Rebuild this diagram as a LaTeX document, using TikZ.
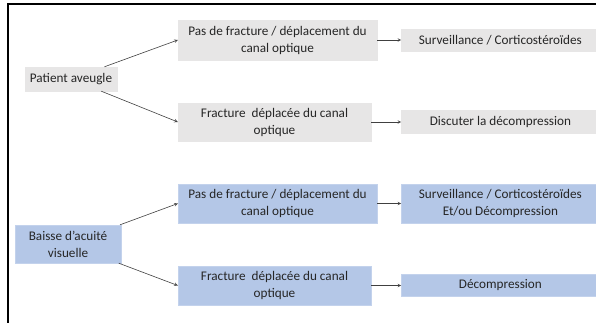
\documentclass[tikz,border=0pt]{standalone}
\usepackage{fontspec}
\setmainfont{Carlito}
\usetikzlibrary{arrows}
\usetikzlibrary{positioning}

\definecolor{boxgray}{HTML}{E7E6E6}
\definecolor{boxblue}{HTML}{B4C7E7}
\definecolor{lineblue}{HTML}{C3D2EC}

\tikzset{
  greybox/.style={fill=boxgray, draw=boxgray, inner sep=0pt, align=center,
    font=\fontsize{13.2}{17}\selectfont, text=black!85},
  bluebox/.style={greybox, fill=boxblue, draw=lineblue},
  every edge/.style={draw, black!75, line width=0.6pt}
}

\begin{document}
\begin{tikzpicture}[->,>=stealth,x=1pt,y=-1pt]
\clip (0,0) rectangle (596,323);
\draw[-,line width=2pt] (8,4) rectangle (620,340);

% patient aveugle
\node[greybox, minimum width=92pt, minimum height=24pt] (pa) at (71,79) {Patient aveugle};
\node[greybox, minimum width=199pt, minimum height=40pt] (m1) at (277.5,40) {Pas de fracture / déplacement du\\canal optique};
\node[greybox, minimum width=193pt, minimum height=38pt] (m2) at (274.5,122) {Fracture\ \ déplacée du canal\\optique};
\node[greybox, minimum width=198pt, minimum height=22pt] (r1) [right=24pt of m1] {Surveillance / Corticostéroïdes};
\node[greybox, minimum width=198pt, minimum height=23pt] (r2) [right=30pt of m2] {Discuter la décompression};

% baisse d'acuite
\node[bluebox, minimum width=106pt, minimum height=38pt] (bv) at (68,244) {Baisse d’acuité\\visuelle};
\node[bluebox, minimum width=199pt, minimum height=39pt] (b1) at (277.5,203.5) {Pas de fracture / déplacement du\\canal optique};
\node[bluebox, minimum width=193pt, minimum height=39pt] (b2) at (274.5,285.5) {Fracture\ \ déplacée du canal\\optique};
\node[bluebox, minimum width=198pt, minimum height=39pt] (c1) [right=24pt of b1] {Surveillance / Corticostéroïdes\\Et/ou Décompression};
\node[bluebox, minimum width=198pt, minimum height=22pt] (c2) [right=30pt of b2] {Décompression};

\path (pa) edge (m1.west)
           edge (m2.west)
      (m1) edge (r1)
      (m2) edge (r2)
      (bv) edge (b1.west)
           edge (b2.west)
      (b1) edge (c1)
      (b2) edge (c2)
;
\end{tikzpicture}
\end{document}
